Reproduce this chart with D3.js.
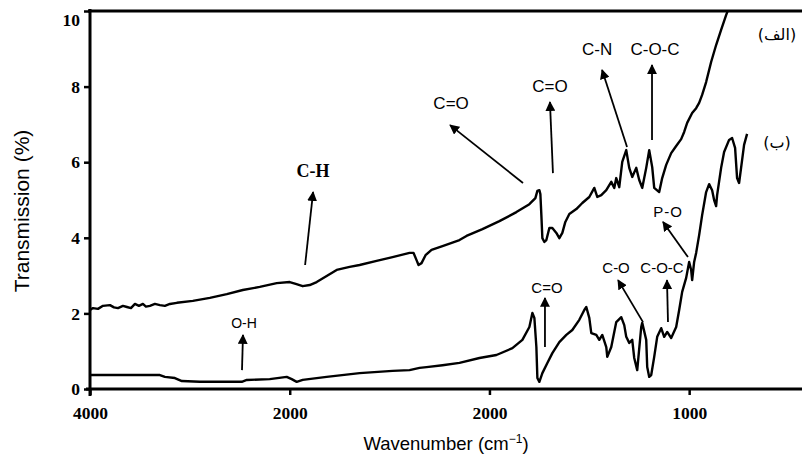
<!DOCTYPE html>
<html><head><meta charset="utf-8">
<script src="https://cdn.jsdelivr.net/npm/d3@7"></script>
<style>body{margin:0;background:#fff}svg{display:block}</style>
</head><body>
<svg id="c" width="802" height="461"></svg>
<script>
// ---- data ----
const xTicks = [4000, 3000, 2000, 1000];
const xTickLabels = ["4000", "2000", "2000", "1000"];
const yTicks = [0, 2, 4, 6, 8, 10];
const yTickLabels = ["0", "2", "4", "6", "8", "10"];

// spectrum (الف) : [wavenumber, transmission]
const spectrumA = [
[4000,2.09],[3985,2.14],[3960,2.12],[3935,2.20],[3900,2.22],[3880,2.16],[3860,2.14],[3835,2.20],[3815,2.17],[3795,2.14],[3775,2.25],[3755,2.20],[3735,2.25],[3720,2.18],[3700,2.20],[3675,2.25],[3650,2.22],[3625,2.20],[3600,2.25],[3565,2.28],[3485,2.33],[3400,2.41],[3315,2.51],[3235,2.62],[3150,2.70],[3065,2.80],[3000,2.83],[2970,2.78],[2935,2.72],[2900,2.75],[2865,2.83],[2815,2.99],[2765,3.15],[2700,3.23],[2650,3.28],[2565,3.39],[2485,3.49],[2400,3.60],[2380,3.60],[2365,3.41],[2355,3.28],[2340,3.33],[2320,3.54],[2290,3.68],[2235,3.78],[2150,3.94],[2115,4.05],[2035,4.23],[1950,4.44],[1865,4.68],[1800,4.89],[1770,5.05],[1760,5.24],[1750,5.26],[1745,5.16],[1740,4.60],[1735,3.99],[1725,3.89],[1715,3.94],[1700,4.26],[1685,4.26],[1665,4.13],[1650,3.99],[1635,4.13],[1620,4.42],[1600,4.63],[1565,4.76],[1535,4.92],[1500,5.08],[1475,5.32],[1460,5.08],[1440,5.13],[1415,5.26],[1390,5.48],[1375,5.32],[1365,5.58],[1350,5.34],[1335,6.01],[1315,6.32],[1300,5.85],[1285,5.61],[1265,5.85],[1250,5.53],[1235,5.32],[1215,5.85],[1200,6.32],[1185,5.87],[1175,5.32],[1150,5.21],[1135,5.58],[1115,5.93],[1090,6.24],[1065,6.43],[1040,6.61],[1025,6.80],[1010,7.04],[985,7.30],[965,7.43],[950,7.57],[935,7.78],[915,8.12],[890,8.65],[865,9.10],[840,9.50],[815,9.89],[800,10.10]
];

// spectrum (ب) : [wavenumber, transmission]
const spectrumB = [
[4000,0.37],[3650,0.37],[3625,0.32],[3575,0.29],[3540,0.21],[3450,0.19],[3350,0.19],[3240,0.19],[3215,0.24],[3100,0.26],[3015,0.32],[2990,0.26],[2965,0.19],[2935,0.24],[2815,0.32],[2650,0.42],[2485,0.48],[2400,0.50],[2350,0.56],[2315,0.58],[2235,0.63],[2150,0.69],[2050,0.82],[1965,0.90],[1885,1.08],[1835,1.30],[1800,1.64],[1785,2.01],[1775,1.88],[1765,1.11],[1760,0.29],[1750,0.19],[1735,0.42],[1710,0.69],[1685,0.95],[1650,1.24],[1615,1.43],[1585,1.56],[1550,1.83],[1525,2.09],[1515,2.17],[1500,1.88],[1490,1.48],[1465,1.43],[1450,1.30],[1435,1.43],[1415,1.11],[1410,0.85],[1390,1.11],[1365,1.77],[1340,1.90],[1325,1.69],[1315,1.38],[1300,1.22],[1285,1.30],[1275,0.82],[1260,0.50],[1240,1.64],[1235,1.75],[1215,1.30],[1210,0.58],[1200,0.32],[1190,0.37],[1175,0.85],[1160,1.38],[1140,1.61],[1125,1.38],[1110,1.51],[1090,1.35],[1065,1.64],[1050,2.09],[1035,2.57],[1015,2.94],[1000,3.36],[990,3.15],[985,2.88],[975,3.36],[965,3.60],[950,4.07],[935,4.60],[915,5.21],[900,5.42],[885,5.26],[875,5.00],[865,4.84],[860,5.13],[840,5.85],[825,6.27],[800,6.59],[785,6.64],[770,6.38],[760,5.58],[750,5.45],[740,5.85],[725,6.46],[710,6.75]
];

// annotation labels: text, text position [w,v], arrow tail [w,v], arrow head [w,v]
const annLabels = ["C-H", "O-H", "C=O", "C=O", "C-N", "C-O-C", "C=O", "C-O", "C-O-C", "P-O"];
const annText = [[2883,5.77],[3229,1.75],[2192,7.57],[1697,8.02],[1461,8.99],[1171,8.99],[1712,2.67],[1366,3.20],[1136,3.20],[1106,4.68]];
const annTail = [[2923,3.28],[3239,0.50],[1832,5.45],[1682,5.71],[1311,6.40],[1186,6.59],[1722,1.11],[1231,1.77],[1106,1.77],[1006,3.49]];
const annHead = [[2883,5.21],[3234,1.43],[2197,6.98],[1697,7.59],[1436,8.44],[1186,8.57],[1722,2.41],[1356,2.88],[1111,2.88],[1131,4.42]];
const seriesNames = ["(الف)", "(ب)"];

// ---- drawing ----
const svg = d3.select("#c");
const x = d3.scaleLinear().domain([4000, 435]).range([90, 802]);
const y = d3.scaleLinear().domain([0, 10]).range([389, 11]);

svg.append("defs").append("clipPath").attr("id", "clip")
  .append("rect").attr("x", 90).attr("y", 11).attr("width", 712).attr("height", 378);
const mk = svg.select("defs").append("marker").attr("id", "ah")
  .attr("viewBox", "0 0 10 10").attr("refX", 9).attr("refY", 5)
  .attr("markerWidth", 5.5).attr("markerHeight", 5.5).attr("markerUnits", "strokeWidth")
  .attr("orient", "auto");
mk.append("path").attr("d", "M0,0 L10,5 L0,10 Z").attr("fill", "#000");

const line = d3.line().x(d => x(d[0])).y(d => y(d[1]));
const g = svg.append("g").attr("clip-path", "url(#clip)");
[spectrumA, spectrumB].forEach(s => {
  g.append("path").datum(s).attr("d", line).attr("fill", "none")
    .attr("stroke", "#000").attr("stroke-width", 2.4).attr("stroke-linejoin", "round");
});

// axes
const xAxis = d3.axisBottom(x).tickValues(xTicks).tickSize(6).tickPadding(12)
  .tickFormat((d, i) => xTickLabels[i]).tickSizeOuter(0);
const yAxis = d3.axisLeft(y).tickValues(yTicks).tickSize(6).tickPadding(4)
  .tickFormat((d, i) => yTickLabels[i]).tickSizeOuter(0);

const gx = svg.append("g").attr("transform", "translate(0,389)").call(xAxis);
gx.select(".domain").attr("d", "M86,0H802").attr("stroke-width", 3);
const gy = svg.append("g").attr("transform", "translate(90,0)").call(yAxis);
gy.select(".domain").attr("d", "M0,9V396").attr("stroke-width", 3);
[gx, gy].forEach(a => {
  a.selectAll(".tick line").attr("stroke-width", 2.5);
  a.selectAll("text").attr("font-family", "Liberation Serif, serif")
    .attr("font-weight", "bold").attr("font-size", 17.5).attr("fill", "#000");
});
gy.selectAll(".tick text").attr("y", d => Math.max(0, 20 - y(d)));
// top frame
svg.append("line").attr("x1", 88).attr("x2", 802).attr("y1", y(10)).attr("y2", y(10))
  .attr("stroke", "#000").attr("stroke-width", 3);

// axis titles
svg.append("text").attr("x", 446).attr("y", 450).attr("text-anchor", "middle")
  .attr("font-family", "Liberation Sans, Arial, sans-serif").attr("font-size", 18.5)
  .html("Wavenumber (cm<tspan dy='-7' font-size='12'>\u22121</tspan><tspan dy='7'>)</tspan>");
svg.append("text").attr("transform", "translate(29,211) rotate(-90)").attr("text-anchor", "middle")
  .attr("font-family", "Liberation Sans, Arial, sans-serif").attr("font-size", 21)
  .text("Transmission (%)");

// annotations
annLabels.forEach((t, i) => {
  svg.append("line")
    .attr("x1", x(annTail[i][0])).attr("y1", y(annTail[i][1]))
    .attr("x2", x(annHead[i][0])).attr("y2", y(annHead[i][1]))
    .attr("stroke", "#000").attr("stroke-width", 1.8).attr("marker-end", "url(#ah)");
  const serif = (t === "C-H");
  const lower = i >= 6;
  svg.append("text").attr("x", x(annText[i][0])).attr("y", y(annText[i][1]))
    .attr("dy", "0.36em").attr("text-anchor", "middle")
    .attr("font-family", serif ? "Liberation Serif, serif" : "Liberation Sans, Arial, sans-serif")
    .attr("font-weight", serif ? "bold" : "normal")
    .attr("font-size", serif ? 18 : (t === "O-H" ? 14 : (lower ? 15 : 17)))
    .attr("letter-spacing", t === "P-O" ? 1 : 0)
    .text(t);
});

seriesNames.forEach((t, i) => {
  svg.append("text").attr("x", 777).attr("y", i === 0 ? 34 : 142).attr("dy", "0.35em")
    .attr("text-anchor", "middle").attr("font-family", "DejaVu Sans, sans-serif")
    .attr("font-size", 16).text(t);
});
</script>
</body></html>
